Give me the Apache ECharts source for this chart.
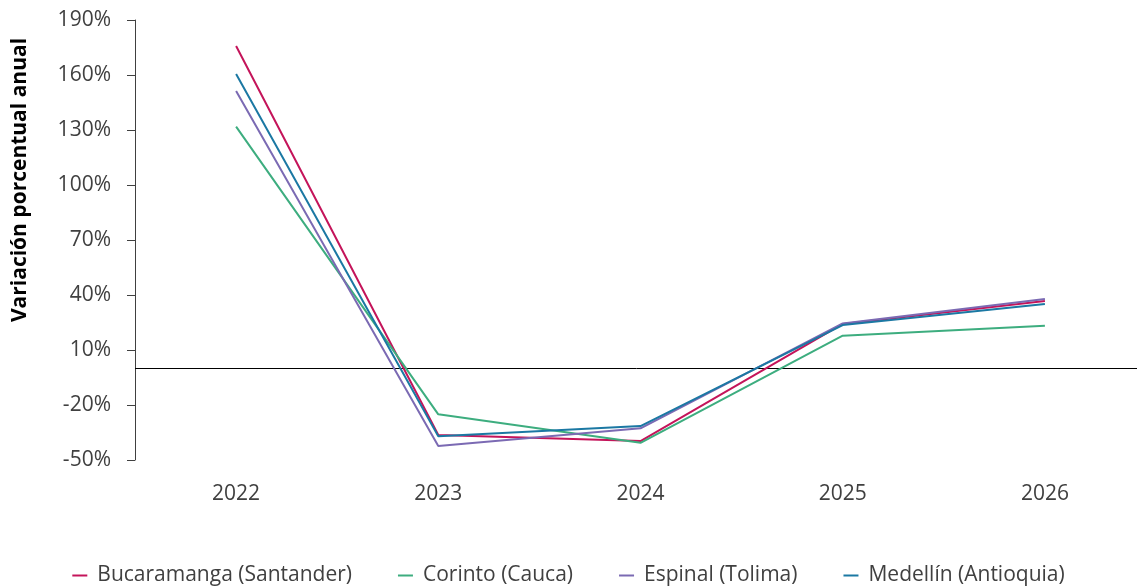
<!DOCTYPE html>
<html>
<head>
<meta charset="utf-8">
<script src="https://cdn.jsdelivr.net/npm/echarts@6/dist/echarts.min.js"></script>
<style>html,body{margin:0;padding:0;background:#fff}#c{width:1137px;height:587px}</style>
</head>
<body>
<div id="c"></div>
<script>
const years = ['2022', '2023', '2024', '2025', '2026'];
const bucaramanga = [175.8, -36.4, -39.7, 24.2, 36.7];
const corinto = [131.8, -25.1, -40.6, 17.8, 23.2];
const espinal = [151.3, -42.4, -32.7, 24.5, 37.8];
const medellin = [160.5, -37.1, -31.5, 23.6, 35.1];
const seriesNames = ['Bucaramanga (Santander)', 'Corinto (Cauca)', 'Espinal (Tolima)', 'Medellín (Antioquia)'];
const colors = ['#C4145A', '#3DAD7F', '#7B6AB3', '#1B78A3'];
const yTitle = 'Variación porcentual anual';

const font = 'Open Sans';
const chart = echarts.init(document.getElementById('c'), null, {renderer: 'canvas'});
const dataSets = [bucaramanga, corinto, espinal, medellin];
const series = dataSets.map((d, i) => ({
  name: seriesNames[i],
  type: 'line',
  data: d,
  symbol: 'none',
  lineStyle: {width: 2, color: colors[i]},
  itemStyle: {color: colors[i]},
  z: 3 + i
}));
series[0].markLine = {
  silent: true,
  symbol: 'none',
  label: {show: false},
  lineStyle: {color: '#000', width: 1, type: 'solid'},
  data: [{yAxis: 0}],
  z: 1
};
chart.setOption({
  animation: false,
  backgroundColor: '#fff',
  grid: {left: 135, width: 1011, top: 20, bottom: 127, outerBoundsMode: 'none', containLabel: false},
  xAxis: {
    type: 'category',
    data: years,
    boundaryGap: true,
    axisLine: {show: false},
    axisTick: {show: false},
    axisLabel: {margin: 24, fontSize: 21, color: '#404040', fontFamily: font}
  },
  yAxis: {
    type: 'value',
    min: -50, max: 190, interval: 30,
    splitLine: {show: false},
    axisLine: {show: true, lineStyle: {color: '#404040', width: 1}},
    axisTick: {show: true, length: 8, lineStyle: {color: '#404040'}},
    axisLabel: {margin: 24, fontSize: 21, color: '#404040', fontFamily: font, formatter: v => v + '%'}
  },
  legend: {
    top: 565,
    left: 'center',
    padding: 0,
    icon: 'rect',
    itemWidth: 15, itemHeight: 2,
    itemGap: 46,
    textStyle: {fontSize: 21, color: '#404040', fontFamily: font, padding: [0, 0, 0, 5]},
    data: seriesNames
  },
  graphic: [{
    type: 'text',
    x: 20, y: 180,
    rotation: Math.PI / 2,
    style: {text: yTitle, font: 'bold 21px "Open Sans"', fill: '#000', textAlign: 'center', textVerticalAlign: 'middle'}
  }],
  series: series
});
</script>
</body>
</html>
